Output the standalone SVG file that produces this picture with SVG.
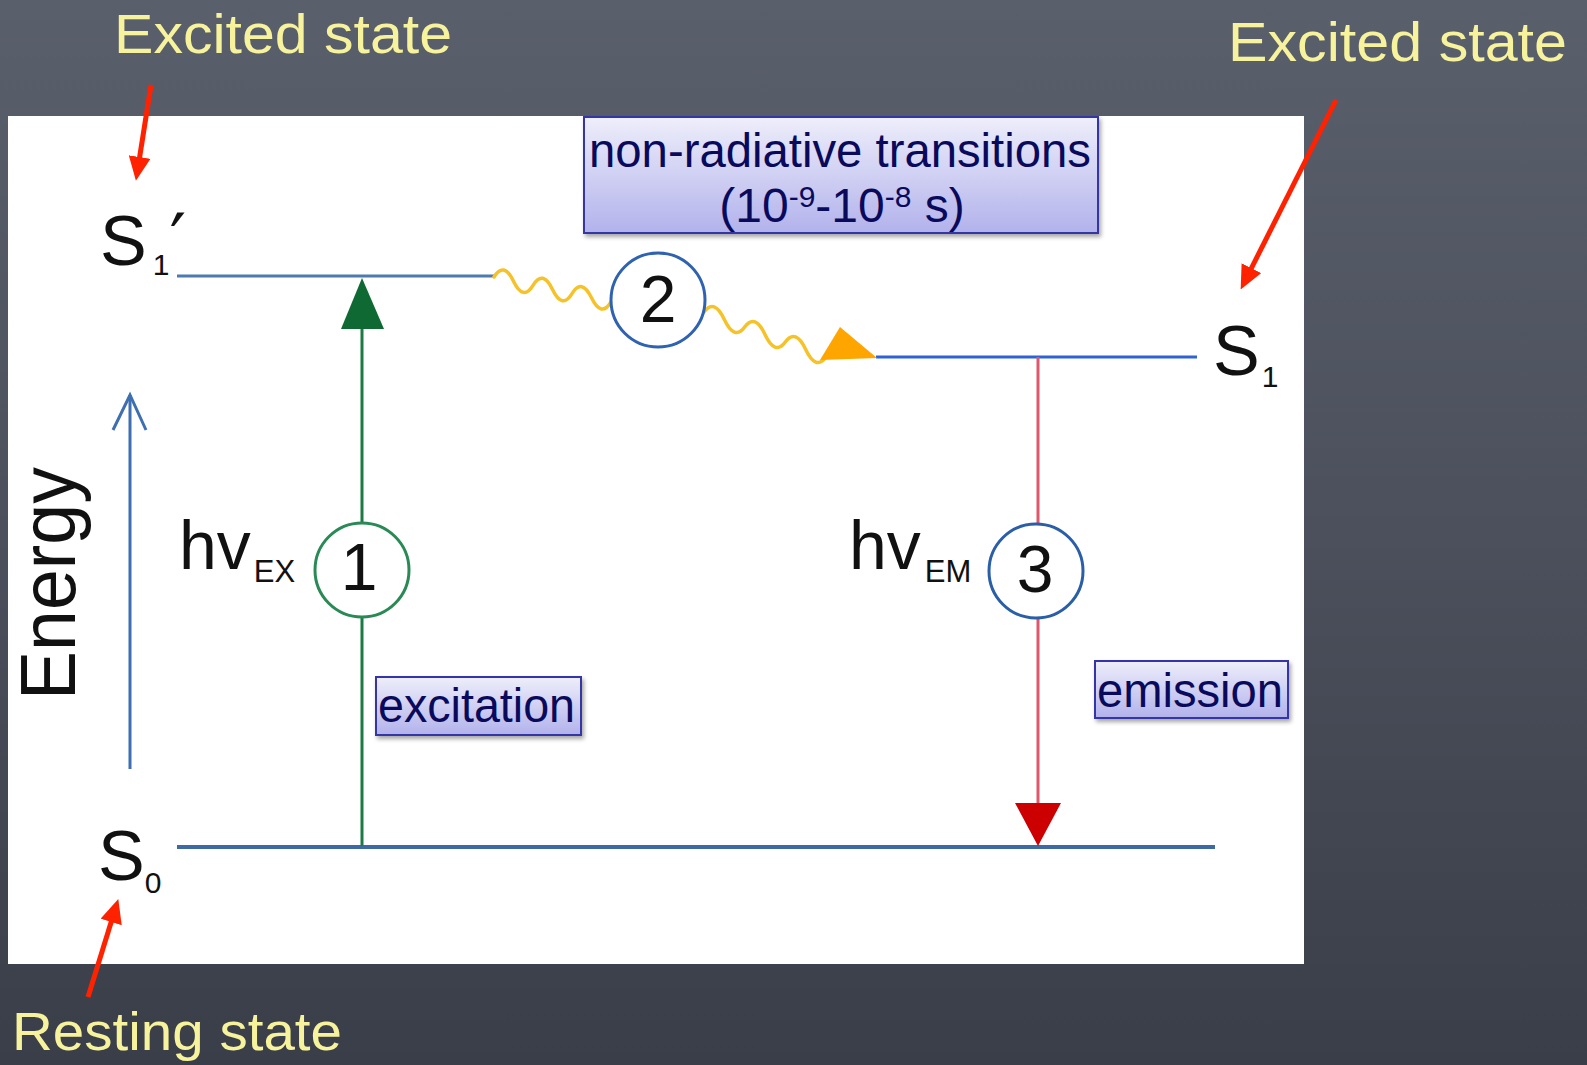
<svg xmlns="http://www.w3.org/2000/svg" width="1587" height="1065" viewBox="0 0 1587 1065">
<defs>
  <linearGradient id="bg" x1="0" y1="0" x2="0" y2="1">
    <stop offset="0" stop-color="#5a5f6c"/>
    <stop offset="0.5" stop-color="#4b505c"/>
    <stop offset="1" stop-color="#3a3e48"/>
  </linearGradient>
  <linearGradient id="boxfill" x1="0" y1="0" x2="0" y2="1">
    <stop offset="0" stop-color="#eeeefb"/>
    <stop offset="1" stop-color="#b2b2ec"/>
  </linearGradient>
  <filter id="shadow" x="-10%" y="-20%" width="130%" height="160%">
    <feDropShadow dx="2" dy="3" stdDeviation="2" flood-color="#000" flood-opacity="0.35"/>
  </filter>
  <marker id="redhead" viewBox="0 0 24 22" refX="1" refY="11" markerWidth="24" markerHeight="22" markerUnits="userSpaceOnUse" orient="auto">
    <path d="M0,0 L24,11 L0,22 z" fill="#ff2200"/>
  </marker>
  <style>
    .note { font-family: "Liberation Sans", Arial, sans-serif; fill: #f7f29c; }
    .lbl { font-family: "Liberation Sans", Arial, sans-serif; fill: #111; }
    .box { fill: url(#boxfill); stroke: #3535a5; stroke-width: 2; filter: url(#shadow); }
    .boxtxt { font-family: "Liberation Sans", Arial, sans-serif; fill: #0a0a5c; font-size: 48px; }
    .redarrow { stroke: #ff2200; stroke-width: 5; fill: none; marker-end: url(#redhead); }
    .num { font-family: "Liberation Sans", Arial, sans-serif; fill: #111; font-size: 66px; text-anchor: middle; }
    .wave { fill: none; stroke: #f6c22a; stroke-width: 3.5; stroke-linecap: round; }
  </style>
</defs>

<rect x="0" y="0" width="1587" height="1065" fill="url(#bg)"/>
<rect id="panel" x="8" y="116" width="1296" height="848" fill="#ffffff"/>

<g id="label-excited-left">
  <text class="note" x="114" y="53" font-size="56" textLength="338" lengthAdjust="spacingAndGlyphs">Excited state</text>
</g>
<g id="label-excited-right">
  <text class="note" x="1228" y="61" font-size="56" textLength="339" lengthAdjust="spacingAndGlyphs">Excited state</text>
</g>
<g id="label-resting">
  <text class="note" x="12" y="1050" font-size="53" textLength="330" lengthAdjust="spacingAndGlyphs">Resting state</text>
</g>

<g id="energy-axis">
  <line x1="130" y1="769" x2="130" y2="395" stroke="#3f6fb0" stroke-width="3"/>
  <path d="M113,430 L130,395 L146,430" fill="none" stroke="#3f6fb0" stroke-width="3"/>
  <text class="lbl" transform="translate(75,700) rotate(-90)" font-size="78" textLength="233" lengthAdjust="spacingAndGlyphs">Energy</text>
</g>

<g id="level-S1prime">
  <line x1="177" y1="276" x2="494" y2="276" stroke="#4d7bb0" stroke-width="3"/>
  <text class="lbl" x="100" y="265" font-size="70">S<tspan font-size="30" dx="6" dy="10">1</tspan><tspan font-size="74" dx="0" dy="-8" style="font-family:'DejaVu Sans',sans-serif">′</tspan></text>
</g>

<g id="level-S1">
  <line x1="876" y1="357" x2="1197" y2="357" stroke="#2e62d6" stroke-width="3"/>
  <text class="lbl" x="1213" y="375" font-size="70">S<tspan font-size="30" dx="2" dy="12">1</tspan></text>
</g>

<g id="level-S0">
  <line x1="177" y1="847" x2="1215" y2="847" stroke="#3d6aa5" stroke-width="4"/>
  <text class="lbl" x="98" y="880" font-size="70">S<tspan font-size="30" dy="13">0</tspan></text>
</g>

<g id="connectors">
  <line x1="362" y1="846" x2="362" y2="326" stroke="#1d7a45" stroke-width="3"/>
  <polygon points="341,329 384,329 362,278" fill="#0e6a32"/>
  <line x1="1038" y1="357" x2="1038" y2="806" stroke="#e0566a" stroke-width="3"/>
  <polygon points="1015,803 1061,803 1038,846" fill="#cc0000"/>
  <path class="wave" d="M494,277 Q503.75,261 513.5,281.2 T533,285.3 T552.5,289.5 T572,293.7 T591.5,297.8 T611,302"/>
  <path class="wave" d="M704,312 Q714.2,298 724.3,319.5 T744.7,327 T765,334.5 T785.3,342 T805.7,349.5 T826,357"/>
  <polygon points="820,360 840,327 877,358" fill="#ffa500"/>
  <line class="redarrow" x1="151" y1="85" x2="139.5" y2="158"/>
  <line class="redarrow" x1="1336" y1="100" x2="1251" y2="269"/>
  <line class="redarrow" x1="88" y1="997" x2="111.5" y2="921"/>
</g>

<g id="step1">
  <circle cx="362" cy="570" r="47" fill="#ffffff" stroke="#2a8a55" stroke-width="3"/>
  <text class="num" x="359" y="590">1</text>
  <text class="lbl" x="179" y="569" font-size="68">hv<tspan font-size="31" dx="3" dy="13">EX</tspan></text>
</g>

<g id="step2">
  <circle cx="658" cy="300" r="47" fill="#ffffff" stroke="#2f62b0" stroke-width="3"/>
  <text class="num" x="658" y="322" font-size="63">2</text>
</g>

<g id="step3">
  <circle cx="1036" cy="571" r="47" fill="#ffffff" stroke="#2a5fa8" stroke-width="3"/>
  <text class="num" x="1035" y="592">3</text>
  <text class="lbl" x="849" y="569" font-size="68">hv<tspan font-size="31" dx="4" dy="13">EM</tspan></text>
</g>

<g id="box-nonradiative">
  <rect class="box" x="584" y="117" width="514" height="116"/>
  <text class="boxtxt" x="589" y="167" textLength="502" lengthAdjust="spacingAndGlyphs">non-radiative transitions</text>
  <text class="boxtxt" x="842" y="222" text-anchor="middle">(10<tspan font-size="30" dy="-15">-9</tspan><tspan dy="15">-10</tspan><tspan font-size="30" dy="-15">-8</tspan><tspan dy="15"> s)</tspan></text>
</g>

<g id="box-excitation">
  <rect class="box" x="376" y="677" width="205" height="58"/>
  <text class="boxtxt" x="378" y="722" textLength="197" lengthAdjust="spacingAndGlyphs">excitation</text>
</g>

<g id="box-emission">
  <rect class="box" x="1095" y="661" width="193" height="57"/>
  <text class="boxtxt" x="1097" y="707" textLength="186" lengthAdjust="spacingAndGlyphs">emission</text>
</g>
</svg>
